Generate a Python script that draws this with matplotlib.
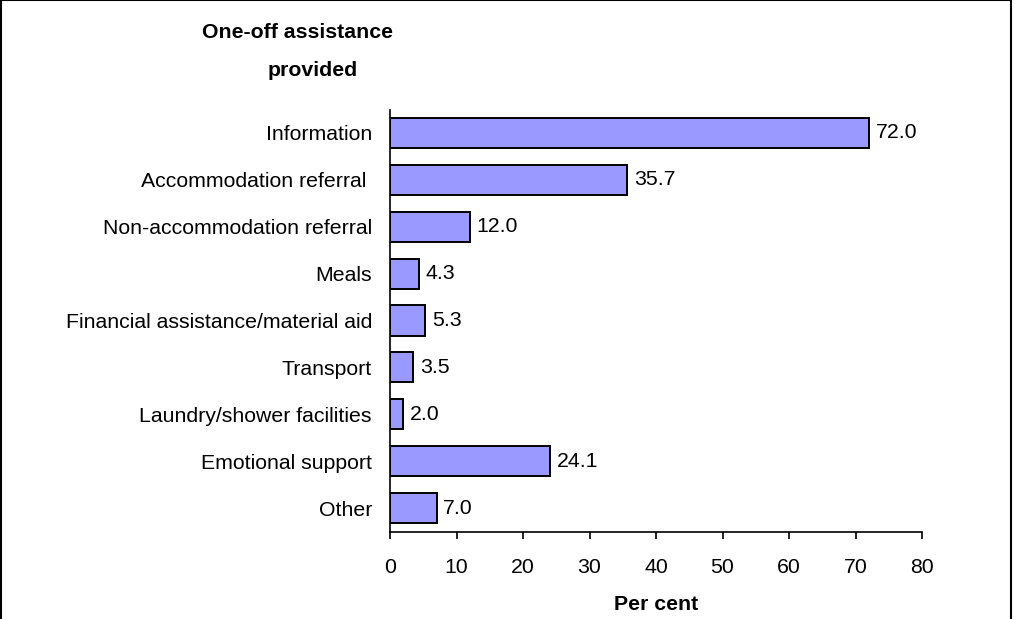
import matplotlib
matplotlib.use("Agg")
import matplotlib.pyplot as plt
from matplotlib.patches import Rectangle

categories = ["Information", "Accommodation referral ", "Non-accommodation referral",
              "Meals", "Financial assistance/material aid", "Transport",
              "Laundry/shower facilities", "Emotional support", "Other"]
values = [72.0, 35.7, 12.0, 4.3, 5.3, 3.5, 2.0, 24.1, 7.0]
xticks = [0, 10, 20, 30, 40, 50, 60, 70, 80]

plt.rcParams['font.family'] = ['Liberation Sans', 'DejaVu Sans']
FS = 15.3

fig = plt.figure(figsize=(10.15, 6.19), dpi=100)
ax = fig.add_axes([390/1015, 1-531.5/619, (922-390)/1015, (531.5-109.5)/619])

pos = list(range(len(categories)))
ax.barh(pos, values, height=0.64, color="#9999FF", edgecolor="black", linewidth=1.4)
for p, v in zip(pos, values):
    ax.text(v + 1.0, p, f"{v:.1f}", va="center", ha="left", fontsize=FS)

ax.set_ylim(len(categories) - 0.5, -0.5)
ax.set_xlim(0, 80)
ax.set_yticks(pos)
ax.set_yticklabels(categories, fontsize=FS)
ax.set_xticks(xticks)
ax.set_xticklabels([str(t) for t in xticks], fontsize=FS)
ax.tick_params(axis='y', length=0, pad=13)
ax.tick_params(axis='x', length=5, width=1.2, pad=14, direction='out')
for s in ["top", "right"]:
    ax.spines[s].set_visible(False)
ax.spines["left"].set_linewidth(1.2)
ax.spines["bottom"].set_linewidth(1.2)

fig.text(297/1015, 1-33/619, "One-off assistance", ha="center", va="center",
         fontsize=FS, fontweight="bold")
fig.text(313/1015, 1-71/619, "provided", ha="center", va="center",
         fontsize=FS, fontweight="bold")
fig.text(656/1015, 1-605/619, "Per cent", ha="center", va="center",
         fontsize=FS, fontweight="bold")

border = Rectangle((0.5/1015, -0.1), 1010.5/1015, 1.1 - 0.5/619, transform=fig.transFigure,
                   fill=False, edgecolor="black", linewidth=1.5, clip_on=False)
fig.add_artist(border)

fig.savefig("out.png", dpi=100)
